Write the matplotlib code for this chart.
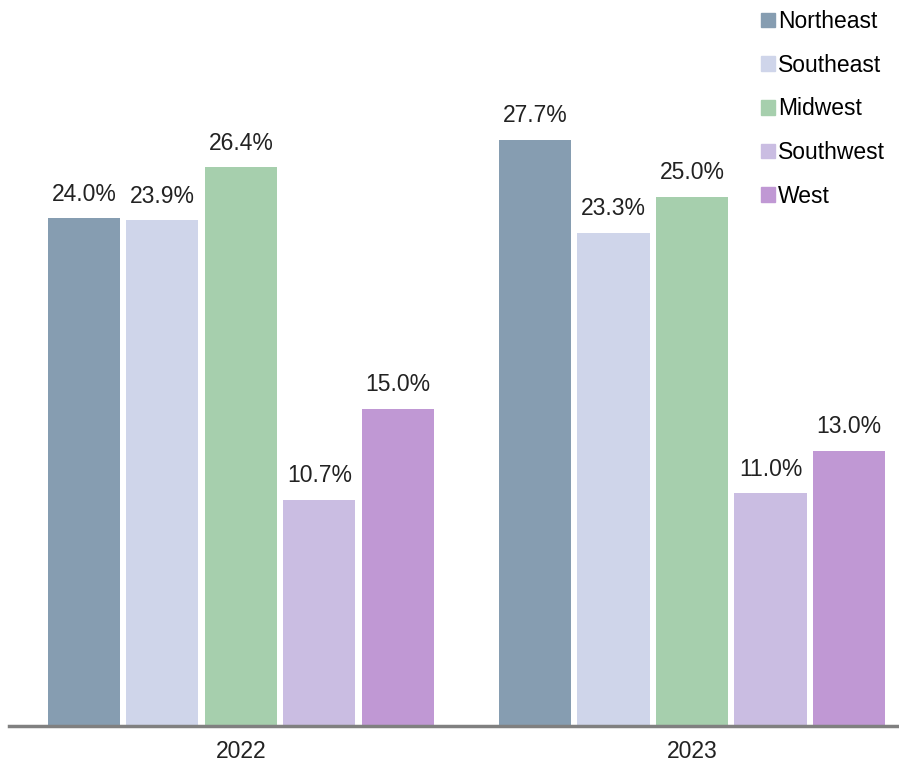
import numpy as np
import matplotlib.pyplot as plt
from matplotlib.patches import Patch

years = ["2022", "2023"]
regions = ["Northeast", "Southeast", "Midwest", "Southwest", "West"]
values = {
    "Northeast": [24.0, 27.7],
    "Southeast": [23.9, 23.3],
    "Midwest": [26.4, 25.0],
    "Southwest": [10.7, 11.0],
    "West": [15.0, 13.0],
}
colors = ["#869db1", "#cfd5ea", "#a6cfad", "#cabde2", "#c098d4"]

plt.rcParams['font.family'] = ['Liberation Sans', 'DejaVu Sans']

fig = plt.figure(figsize=(8.99, 7.65), dpi=100)
ax = fig.add_axes([9 / 899, 39 / 765, 890 / 899, 726 / 765])

x = np.arange(len(years))
step = 0.174
width = 0.16
for i, (name, c) in enumerate(zip(regions, colors)):
    pos = x + (i - 2) * step
    bars = ax.bar(pos, values[name], width, color=c, label=name)
    for b, v in zip(bars, values[name]):
        ax.annotate(f"{v:.1f}%", (b.get_x() + b.get_width() / 2, v),
                    xytext=(0, 9), textcoords="offset points",
                    ha="center", va="bottom", fontsize=16.5, color="#222222")

ax.set_xlim(-0.514, 1.459)
ax.set_ylim(0, 34.3)
ax.set_xticks(x)
ax.set_xticklabels(years, fontsize=16.5, color="#222222")
ax.tick_params(axis="x", length=0, pad=10)
ax.set_yticks([])
for s in ["top", "right", "left"]:
    ax.spines[s].set_visible(False)
ax.spines["bottom"].set_color("#808080")
ax.spines["bottom"].set_linewidth(2.5)

handles = [Patch(color=c, label=n) for n, c in zip(regions, colors)]
ax.legend(handles=handles, loc="upper right", bbox_to_anchor=(1.0, 1.005),
          frameon=False, fontsize=16.5, handlelength=0.6, handleheight=0.6,
          handletextpad=0.15, labelspacing=0.9, borderaxespad=0.2)

fig.savefig("out.png", dpi=100)
